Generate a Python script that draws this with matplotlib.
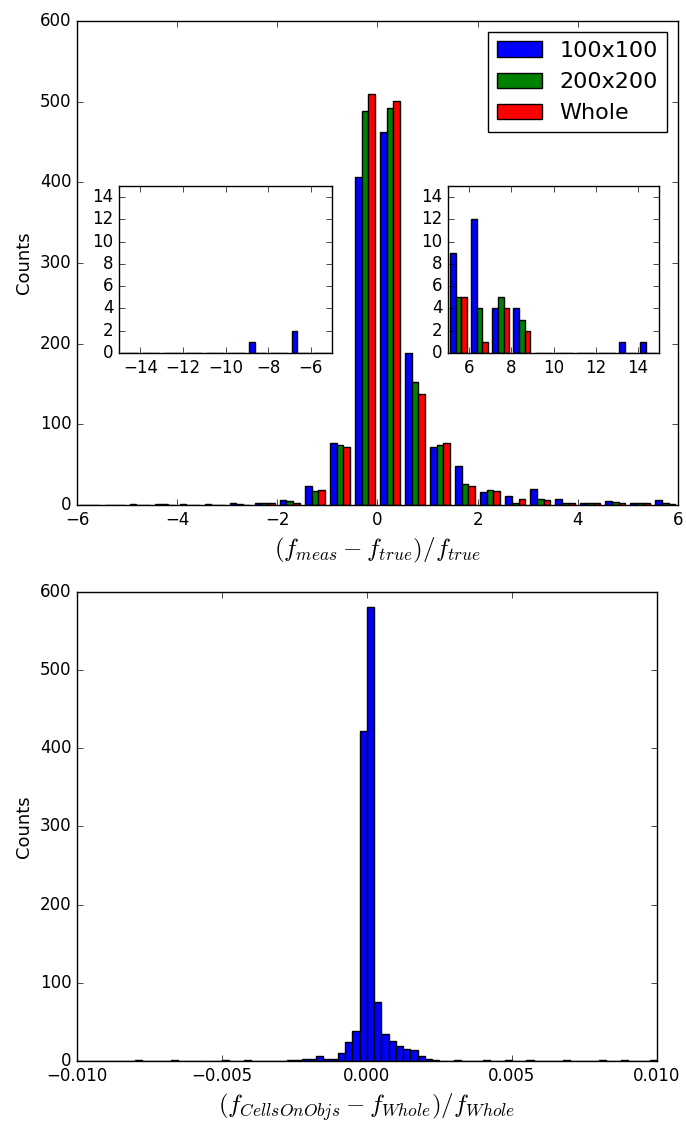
import numpy as np
import matplotlib
matplotlib.use("Agg")
import matplotlib.pyplot as plt

plt.style.use("classic")

# ---- data ----
series_labels = ["100x100", "200x200", "Whole"]
series_colors = ["b", "g", "r"]

# main panel: bins of width 0.5 from -6 to 6
main_edges = np.arange(-6, 6.01, 0.5)
main_blue = [0, 0, 1, 1, 1, 1, 2, 3, 6, 23, 77, 407,
             463, 189, 72, 48, 16, 11, 20, 7, 3, 5, 2, 6]
main_green = [0, 0, 0, 1, 0, 0, 1, 3, 5, 17, 75, 489,
              492, 152, 75, 26, 19, 3, 7, 3, 2, 4, 2, 2]
main_red = [0, 0, 0, 0, 0, 0, 0, 2, 3, 19, 72, 509,
            501, 138, 77, 24, 17, 7, 6, 3, 2, 3, 3, 1]

# left inset: bins of width 1 from -15 to -5
left_edges = np.arange(-15, -4, 1)
left_blue = [0, 0, 0, 0, 0, 0, 1, 0, 2, 0]
left_green = [0] * 10
left_red = [0] * 10

# right inset: bins of width 1 from 5 to 15
right_edges = np.arange(5, 16, 1)
right_blue = [9, 12, 4, 4, 0, 0, 0, 0, 1, 1]
right_green = [5, 4, 5, 3, 0, 0, 0, 0, 0, 0]
right_red = [5, 1, 4, 2, 0, 0, 0, 0, 0, 0]

# bottom panel: 80 bins of width 0.00025 from -0.01 to 0.01
bot_edges = np.linspace(-0.01, 0.01, 81)
bot_counts = [0, 0, 0, 0, 0, 0, 0, 0, 1, 0,
              0, 0, 0, 1, 0, 0, 0, 0, 0, 0,
              1, 0, 0, 1, 0, 0, 0, 0, 0, 1,
              1, 2, 2, 6, 3, 3, 10, 24, 38, 422,
              581, 75, 34, 26, 19, 15, 14, 6, 2, 1,
              0, 0, 1, 0, 0, 0, 1, 0, 0, 1,
              0, 0, 1, 0, 0, 0, 0, 1, 0, 0,
              0, 0, 1, 0, 0, 1, 0, 0, 0, 1]


def centers(edges):
    return 0.5 * (edges[:-1] + edges[1:])


def grouped_hist(ax, edges, weights, labels=None):
    c = centers(edges)
    ax.hist([c, c, c], bins=edges, weights=weights,
            color=series_colors, label=labels)


fig = plt.figure(figsize=(6.86, 11.22), facecolor="white")

# top panel
ax1 = fig.add_axes([0.1122, 0.5499, 0.8761, 0.4314])
grouped_hist(ax1, main_edges, [main_blue, main_green, main_red], series_labels)
ax1.set_xlim(-6, 6)
ax1.set_ylim(0, 600)
ax1.set_xticks(np.arange(-6, 7, 2))
ax1.set_yticks(np.arange(0, 601, 100))
ax1.set_ylabel("Counts", fontsize=13)
ax1.set_xlabel(r"$(f_{meas}-f_{true})/f_{true}$", fontsize=18)
ax1.legend(loc="upper right", fontsize=16)

# insets
ins_l = fig.add_axes([0.1735, 0.6854, 0.3105, 0.1488])
grouped_hist(ins_l, left_edges, [left_blue, left_green, left_red])
ins_l.set_xlim(-15, -5)
ins_l.set_ylim(0, 15)
ins_l.set_xticks(np.arange(-14, -5, 2))
ins_l.set_yticks(np.arange(0, 15, 2))

ins_r = fig.add_axes([0.6531, 0.6854, 0.3076, 0.1488])
grouped_hist(ins_r, right_edges, [right_blue, right_green, right_red])
ins_r.set_xlim(5, 15)
ins_r.set_ylim(0, 15)
ins_r.set_xticks(np.arange(6, 15, 2))
ins_r.set_yticks(np.arange(0, 15, 2))

# bottom panel
ax2 = fig.add_axes([0.1122, 0.0544, 0.8455, 0.418])
ax2.hist(centers(bot_edges), bins=bot_edges, weights=bot_counts, color="b")
ax2.set_xlim(-0.01, 0.01)
ax2.set_ylim(0, 600)
ax2.set_xticks([-0.01, -0.005, 0.0, 0.005, 0.01])
ax2.set_yticks(np.arange(0, 601, 100))
ax2.set_ylabel("Counts", fontsize=13)
ax2.set_xlabel(r"$(f_{CellsOnObjs}-f_{Whole})/f_{Whole}$", fontsize=18)

fig.savefig("out.png", dpi=100, facecolor="white")
